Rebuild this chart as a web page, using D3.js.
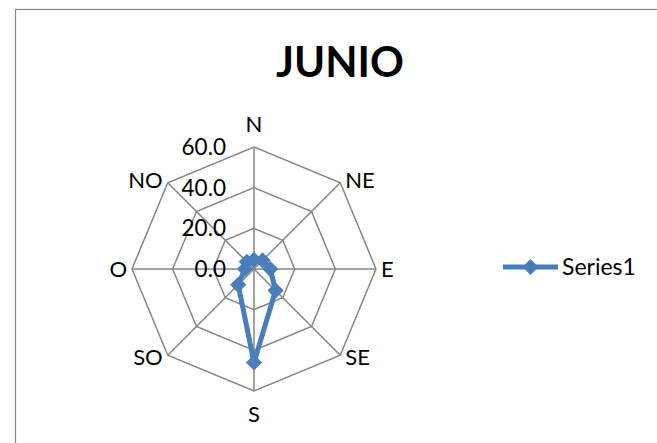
<!DOCTYPE html>
<html>
<head>
<meta charset="utf-8">
<script src="https://cdn.jsdelivr.net/npm/d3@7"></script>
<style>
  body { margin: 0; background: #fff; }
  svg { display: block; font-family: Lato, "Open Sans", sans-serif; }
</style>
</head>
<body>
<svg id="chart" width="657" height="443"></svg>
<script>
// data
var directions = ["N", "NE", "E", "SE", "S", "SO", "O", "NO"];
var values = [4.5, 6, 8, 15, 46, 11, 4.5, 5];
var ticks = [0, 20, 40, 60];
var tickLabels = ["0.0", "20.0", "40.0", "60.0"];
var seriesName = "Series1";
var title = "JUNIO";

var cx = 254, cy = 269, maxR = 122;
var blue = "#4a7ebb", grid = "#868686";

var svg = d3.select("#chart");

// chart area border (runs off the right and bottom edge)
svg.append("rect")
  .attr("x", 15.5).attr("y", 9.5)
  .attr("width", 700).attr("height", 500)
  .attr("fill", "none").attr("stroke", grid).attr("stroke-width", 1.2);

svg.append("text")
  .attr("x", 340).attr("y", 77)
  .attr("text-anchor", "middle")
  .style("font-weight", "bold").style("font-size", "42px")
  .text(title);

var r = d3.scaleLinear().domain([0, 60]).range([0, maxR]);
var angle = d3.scaleBand().domain(directions).range([0, 2 * Math.PI]).padding(0);

var g = svg.append("g").attr("transform", "translate(" + cx + "," + cy + ")");

// rings
var ring = d3.lineRadial()
  .angle(function (d) { return angle(d); })
  .curve(d3.curveLinearClosed);

ticks.filter(function (t) { return t > 0; }).forEach(function (t) {
  g.append("path")
    .attr("d", ring.radius(r(t))(directions))
    .attr("fill", "none").attr("stroke", grid).attr("stroke-width", 1.5);
});

// spokes
directions.forEach(function (d) {
  var a = angle(d);
  g.append("line")
    .attr("x1", 0).attr("y1", 0)
    .attr("x2", Math.sin(a) * r(60)).attr("y2", -Math.cos(a) * r(60))
    .attr("stroke", grid).attr("stroke-width", 1.5);
});

// tick labels on the N axis
ticks.forEach(function (t, i) {
  g.append("text")
    .attr("x", -28).attr("y", -r(t))
    .attr("dy", "0.35em")
    .attr("text-anchor", "end")
    .style("font-size", "22.5px")
    .text(tickLabels[i]);
});

// direction labels
directions.forEach(function (d) {
  var a = angle(d);
  var sx = Math.sin(a), cyy = -Math.cos(a);
  var x = sx * r(60), y = cyy * r(60);
  var anchor = "middle";
  if (sx > 0.1) { anchor = "start"; x += 5; }
  else if (sx < -0.1) { anchor = "end"; x -= 5; }
  if (Math.abs(sx) < 0.1) y += cyy * 23;
  else y += cyy * 3.5;
  g.append("text")
    .attr("x", x).attr("y", y)
    .attr("dy", "0.35em")
    .attr("text-anchor", anchor)
    .style("font-size", "22px")
    .text(d);
});

// series
var pts = directions.map(function (d, i) { return { dir: d, value: values[i] }; });
var line = d3.lineRadial()
  .angle(function (d) { return angle(d.dir); })
  .radius(function (d) { return r(d.value); })
  .curve(d3.curveLinearClosed);

g.append("path")
  .attr("d", line(pts))
  .attr("fill", "none").attr("stroke", blue)
  .attr("stroke-width", 5).attr("stroke-linejoin", "round");

var diamond = d3.symbol().type(d3.symbolSquare).size(130);
g.selectAll(".mk").data(pts).enter().append("path")
  .attr("class", "mk")
  .attr("d", diamond)
  .attr("fill", blue)
  .attr("transform", function (d) {
    var a = angle(d.dir);
    return "translate(" + (Math.sin(a) * r(d.value)) + "," + (-Math.cos(a) * r(d.value)) + ") rotate(45)";
  });

// legend
var lg = svg.append("g").attr("transform", "translate(503,267)");
lg.append("line")
  .attr("x1", 0).attr("x2", 55).attr("y1", 0).attr("y2", 0)
  .attr("stroke", blue).attr("stroke-width", 5);
lg.append("path")
  .attr("d", diamond)
  .attr("fill", blue)
  .attr("transform", "translate(27.5,0) rotate(45)");
lg.append("text")
  .attr("x", 59).attr("y", 0).attr("dy", "0.35em")
  .style("font-size", "23px")
  .text(seriesName);
</script>
</body>
</html>
